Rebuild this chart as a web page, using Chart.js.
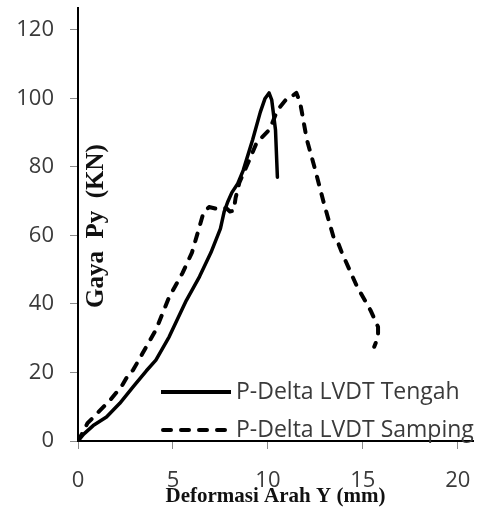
<!DOCTYPE html>
<html><head><meta charset="utf-8">
<script src="https://cdn.jsdelivr.net/npm/chart.js@4"></script>
<style>html,body{margin:0;padding:0;background:#fff}#wrap{width:477px;height:509px;position:relative}</style>
</head><body><div id="wrap"><canvas id="c" width="477" height="509"></canvas></div>
<script>
const seriesNames = ['P-Delta LVDT Tengah', 'P-Delta LVDT Samping'];
const tengahX = [0, 0.3, 0.8, 1.5, 2.2, 2.9, 3.6, 4.1, 4.8, 5.7, 6.4, 7.0, 7.5, 7.7, 7.9, 8.1, 8.4, 8.7, 9.2, 9.6, 9.85, 10.06, 10.2, 10.4, 10.5];
const tengahY = [0, 2, 4.5, 7, 11, 15.8, 20.5, 23.6, 30.4, 41, 48, 55, 62, 67, 70, 72.5, 75, 79, 88, 96, 100, 101.6, 99.6, 90.8, 77];
const sampingX = [0, 0.2, 0.5, 1.0, 1.7, 2.3, 2.7, 2.9, 3.4, 4.1, 4.8, 5.5, 6.0, 6.3, 6.6, 6.9, 7.3, 7.8, 8.0, 8.2, 8.3, 8.5, 9.1, 9.4, 10.1, 10.5, 11.0, 11.3, 11.5, 11.7, 12.05, 12.5, 12.9, 13.3, 13.5, 13.7, 13.9, 14.7, 15.4, 15.8, 15.8, 15.6];
const sampingY = [0, 2, 5.2, 8, 12, 16, 19.8, 20.7, 25.6, 32.4, 42, 49, 55, 60.7, 66.5, 68.3, 67.8, 68, 67, 67.2, 71, 75.5, 83, 87, 91, 96.6, 100, 100.8, 101.6, 98.7, 88, 79, 70.4, 62.5, 58.7, 57.8, 54.9, 45, 38.2, 33.3, 30.4, 27.5];
const xTicks = [0, 5, 10, 15, 20];
const yTicks = [0, 20, 40, 60, 80, 100, 120];
const xTitle = 'Deformasi Arah Y (mm)';
const yTitle = 'Gaya  Py  (KN)';

const toPts = (xs, ys) => xs.map((x, i) => ({x: x, y: ys[i]}));
const tickFont = {family: "'Open Sans', sans-serif", size: 22};
const tickColor = '#3a3a3a';

const overlay = {
  id: 'overlay',
  afterDatasetsDraw(chart) {
    const ctx = chart.ctx;
    const ca = chart.chartArea;
    ctx.save();
    // y title inside plot area
    ctx.translate(ca.left + 19, 226);
    ctx.rotate(-Math.PI / 2);
    ctx.font = "bold 25px 'Liberation Serif', serif";
    ctx.fillStyle = '#111';
    ctx.textAlign = 'center';
    ctx.textBaseline = 'middle';
    ctx.fillText(yTitle, 0, 0);
    ctx.restore();
    // legend inside plot area
    const rows = [392, 430];
    chart.data.datasets.forEach((ds, i) => {
      ctx.save();
      ctx.strokeStyle = ds.borderColor;
      ctx.lineWidth = 4;
      ctx.lineCap = i === 0 ? 'butt' : 'round';
      ctx.setLineDash(i === 0 ? [] : [8, 10]);
      ctx.beginPath();
      ctx.moveTo(i === 0 ? 161 : 163, rows[i]);
      ctx.lineTo(231, rows[i]);
      ctx.stroke();
      ctx.setLineDash([]);
      ctx.font = "23px 'Open Sans', sans-serif";
      ctx.fillStyle = tickColor;
      ctx.textAlign = 'left';
      ctx.textBaseline = 'middle';
      ctx.fillText(ds.label, 236, rows[i]);
      ctx.restore();
    });
  }
};

new Chart(document.getElementById('c'), {
  type: 'scatter',
  data: {
    datasets: [
      {label: seriesNames[0], data: toPts(tengahX, tengahY), showLine: true, borderColor: '#000', borderWidth: 3.5, pointRadius: 0, tension: 0, borderJoinStyle: 'round', borderCapStyle: 'round'},
      {label: seriesNames[1], data: toPts(sampingX, sampingY), showLine: true, borderColor: '#000', borderWidth: 4, borderDash: [8, 10], borderCapStyle: 'round', borderJoinStyle: 'round', pointRadius: 0, tension: 0}
    ]
  },
  options: {
    responsive: false,
    animation: false,
    layout: {padding: {top: 8, right: 4, left: 0, bottom: 0}},
    plugins: {legend: {display: false}, tooltip: {enabled: false}},
    scales: {
      x: {
        type: 'linear', min: 0, max: 20.8,
        afterBuildTicks(s) { s.ticks = xTicks.map(v => ({value: v})); },
        afterFit(s) { s.height = 68; s.paddingLeft = 0; s.paddingRight = 0; },
        ticks: {font: tickFont, color: tickColor, padding: 19, maxRotation: 0},
        grid: {drawOnChartArea: false, drawTicks: true, tickLength: 8, tickColor: '#8a8a8a', tickWidth: 1},
        border: {display: true, color: '#000', width: 2},
        title: {display: true, text: xTitle, font: {family: "'Liberation Serif', serif", size: 21, weight: 'bold'}, color: '#111', padding: {top: 0, bottom: 0}}
      },
      y: {
        type: 'linear', min: 0, max: 126.4,
        afterBuildTicks(s) { s.ticks = yTicks.map(v => ({value: v})); },
        afterFit(s) { s.width = 78; s.paddingTop = 0; s.paddingBottom = 0; },
        ticks: {font: tickFont, color: tickColor, padding: 16},
        grid: {drawOnChartArea: false, drawTicks: true, tickLength: 8, tickColor: '#8a8a8a', tickWidth: 1},
        border: {display: true, color: '#000', width: 2}
      }
    }
  },
  plugins: [overlay]
});
</script>
</body></html>
